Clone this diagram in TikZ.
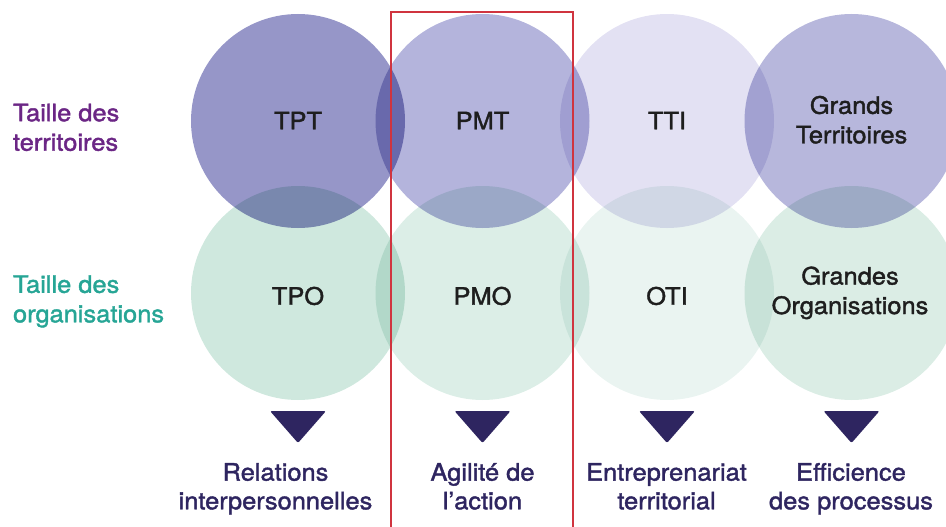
\documentclass[tikz,border=0pt]{standalone}
\usepackage{fontspec}
\newfontfamily\labfont{TeX Gyre Heros}[FakeStretch=1.06,FakeBold=1.6]
\definecolor{cTPT}{HTML}{9696C8}
\definecolor{cPMT}{HTML}{B4B4DC}
\definecolor{cTTI}{HTML}{E3E1F3}
\definecolor{cGT}{HTML}{B7B7DC}
\definecolor{cTPO}{HTML}{CFE8DE}
\definecolor{cPMO}{HTML}{DCEEE7}
\definecolor{cOTI}{HTML}{EAF4F1}
\definecolor{cGO}{HTML}{DBEDE5}
\definecolor{txtdark}{HTML}{1E1E1E}
\definecolor{navy}{HTML}{2E2560}
\definecolor{purplelab}{HTML}{6B2685}
\definecolor{teallab}{HTML}{26A595}
\definecolor{redframe}{HTML}{D0343F}
\tikzset{
  circ/.style={circle, minimum size=214pt, inner sep=0pt, draw=none},
  inlab/.style={font=\labfont\fontsize{24}{29.5}\selectfont, text=txtdark, align=center, anchor=base},
  outlab/.style={font=\labfont\fontsize{24}{28.7}\selectfont, text=navy, align=center, anchor=base},
  sidelab/.style={font=\labfont\fontsize{24}{29.5}\selectfont, align=left, anchor=base west},
  tri/.style={fill=navy, rounded corners=2pt},
}
\begin{document}
\begin{tikzpicture}[x=1pt,y=-1pt]
\useasboundingbox (0,0) rectangle (946,527);
\clip (0,0) rectangle (946,527);
\begin{scope}[blend group=multiply]
\node[circ, fill=cTPT] (tpt) at (298,121) {};
\node[circ, fill=cPMT] (pmt) at (482.5,121) {};
\node[circ, fill=cTTI] (tti) at (667,121) {};
\node[circ, fill=cGT]  (gt)  at (851.5,121) {};
\node[circ, fill=cTPO] (tpo) at (298,293) {};
\node[circ, fill=cPMO] (pmo) at (482.5,293) {};
\node[circ, fill=cOTI] (oti) at (667,293) {};
\node[circ, fill=cGO]  (go)  at (851.5,293) {};
\end{scope}
% circle labels
\node[inlab] (ltpt) at (298,129.3) {TPT};
\node[inlab] (lpmt) at (482.5,129.3) {PMT};
\node[inlab] (ltti) at (667,129.3) {TTI};
\node[inlab] (lgt)  at (851.5,143.3) {Grands\\Territoires};
\node[inlab] (ltpo) at (298,304.7) {TPO};
\node[inlab] (lpmo) at (482.5,304.7) {PMO};
\node[inlab] (loti) at (667,304.7) {OTI};
\node[inlab] (lgo)  at (850,314) {Grandes\\Organisations};
% side labels
\node[sidelab, text=purplelab] (sterr) at (9.5,150.7) {Taille des\\territoires};
\node[sidelab, text=teallab] (sorg) at (9.5,322.3) {Taille des\\organisations};
% triangles
\foreach \x in {298,482.5,667,851.5}{
  \fill[tri] (\x-28,411) -- (\x+28,411) -- (\x,443) -- cycle;
}
% bottom labels
\node[outlab] (b1) at (275.5,509.3) {Relations\\interpersonnelles};
\node[outlab] (b2) at (482.5,509.3) {Agilité de\\l’action};
\node[outlab] (b3) at (666.5,509.3) {Entreprenariat\\territorial};
\node[outlab] (b4) at (851,509.3) {Efficience\\des processus};
% red frame
\draw[redframe, line width=2pt] (390.5,12.5) rectangle (572.5,560);
\end{tikzpicture}
\end{document}
